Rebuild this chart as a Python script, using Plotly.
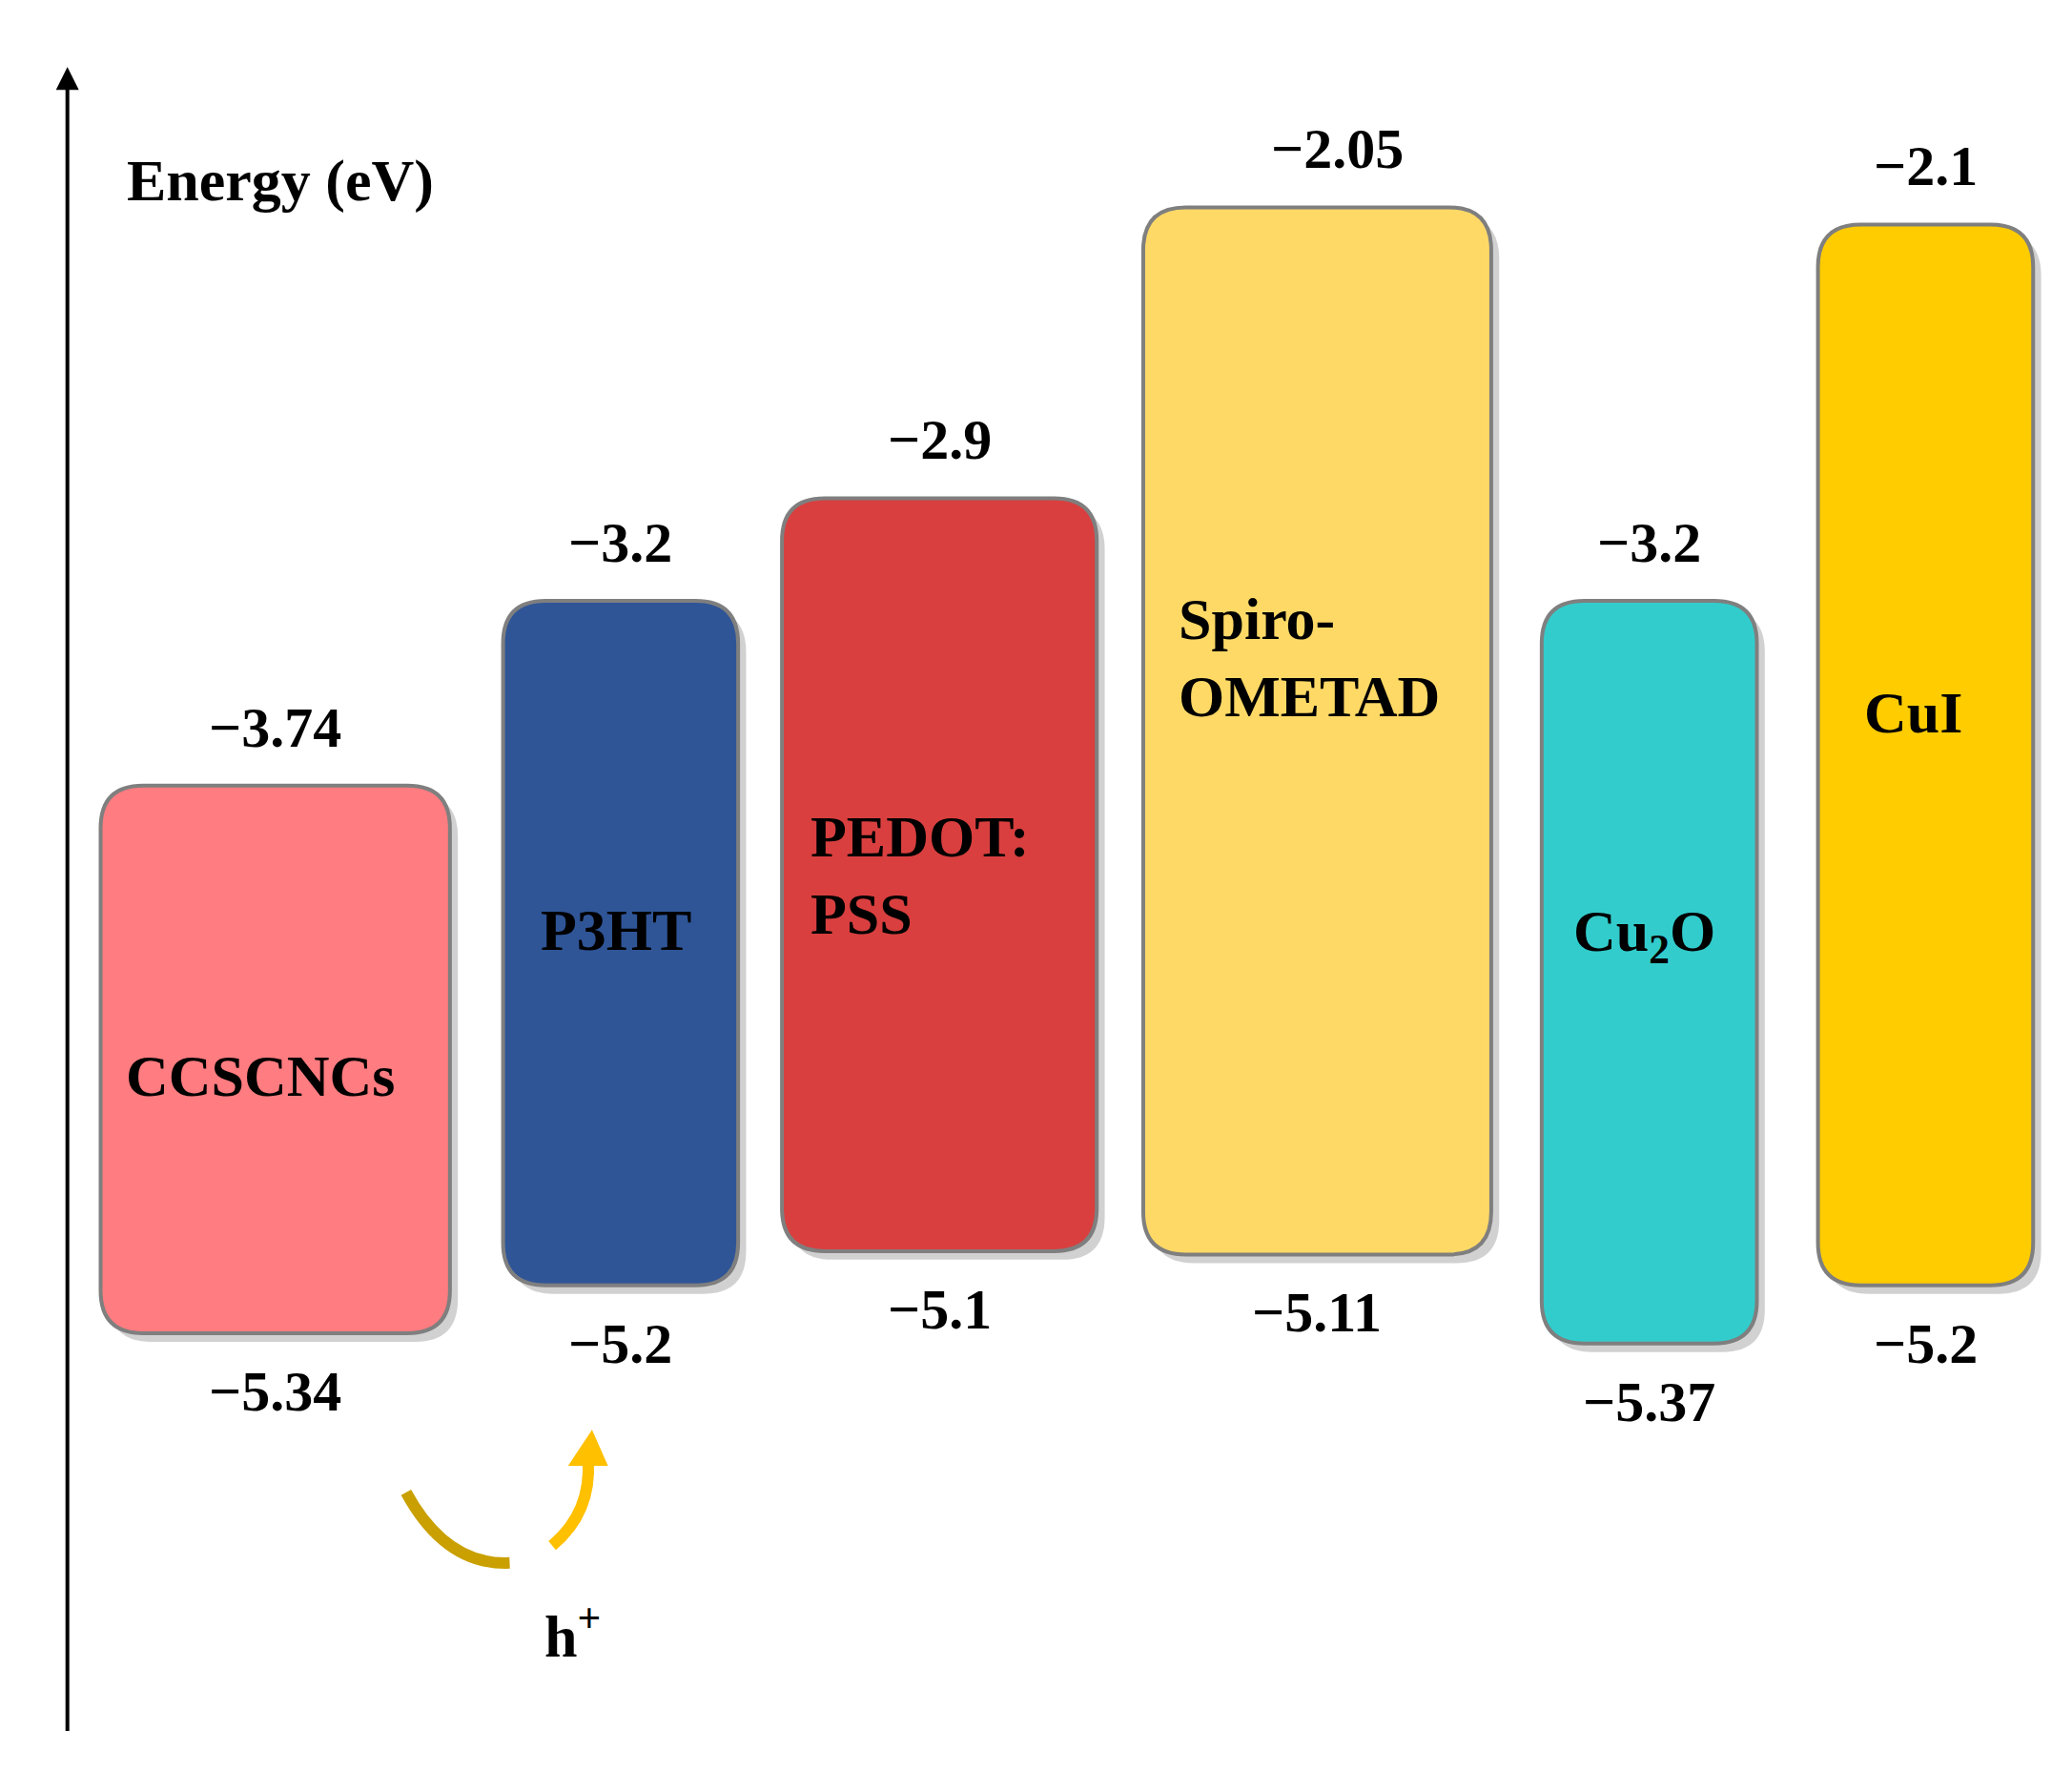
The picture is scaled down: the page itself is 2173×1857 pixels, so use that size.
import plotly.graph_objects as go

# energy levels (eV)
materials = ["CCSCNCs", "P3HT", "PEDOT:<br>PSS", "Spiro-<br>OMETAD", "Cu<sub>2</sub>O", "CuI"]
lumo = [-3.74, -3.2, -2.9, -2.05, -3.2, -2.1]
homo = [-5.34, -5.2, -5.1, -5.11, -5.37, -5.2]
lumo_txt = ["−3.74", "−3.2", "−2.9", "−2.05", "−3.2", "−2.1"]
homo_txt = ["−5.34", "−5.2", "−5.1", "−5.11", "−5.37", "−5.2"]
fills = ["#FF7C80", "#2F5597", "#D93F3F", "#FFD966", "#33CCCC", "#FFCC00"]

# layout helpers (horizontal placement)
x_left = [70, 373, 583, 855, 1155, 1363]
x_right = [333, 550, 820, 1117, 1317, 1525]
name_x = [190, 458, 603, 880, 1232, 1435]
name_anchor = ["center", "center", "left", "left", "center", "center"]
name_frac = [0.53, 0.48, 0.5, 0.43, 0.45, 0.46]
top_dx = [0, 0, 0, 15, 0, 0]

PX = 257.0  # px per eV in the reference grid
R = 32      # corner radius in px
FONT = "Liberation Serif"


def rrect(x0, x1, y0, y1):
    ry = R / PX
    return (f"M{x0+R},{y1} L{x1-R},{y1} Q{x1},{y1} {x1},{y1-ry} "
            f"L{x1},{y0+ry} Q{x1},{y0} {x1-R},{y0} L{x0+R},{y0} "
            f"Q{x0},{y0} {x0},{y0+ry} L{x0},{y1-ry} Q{x0},{y1} {x0+R},{y1} Z")


fig = go.Figure()
shapes = []
ann = []
for i in range(len(materials)):
    x0, x1 = x_left[i], x_right[i]
    shapes.append(dict(type="path", path=rrect(x0 + 6, x1 + 6, homo[i] - 0.025, lumo[i] - 0.025),
                       fillcolor="rgba(0,0,0,0.18)", line=dict(width=0), layer="below"))
    shapes.append(dict(type="path", path=rrect(x0, x1, homo[i], lumo[i]),
                       fillcolor=fills[i], line=dict(color="#7F7F7F", width=4)))
    cx = (x0 + x1) / 2
    ann.append(dict(x=cx + top_dx[i], y=lumo[i] + 0.17, text="<b>" + lumo_txt[i] + "</b>",
                    showarrow=False, font=dict(family=FONT, size=60, color="black"),
                    xanchor="center"))
    ann.append(dict(x=cx, y=homo[i] - 0.17, text="<b>" + homo_txt[i] + "</b>", showarrow=False,
                    font=dict(family=FONT, size=60, color="black"), xanchor="center"))
    ny = lumo[i] - name_frac[i] * (lumo[i] - homo[i])
    ann.append(dict(x=name_x[i], y=ny, text="<b>" + materials[i] + "</b>", showarrow=False,
                    font=dict(family=FONT, size=62, color="black"), xanchor=name_anchor[i],
                    align="left"))

# energy axis arrow
ann.append(dict(x=45, y=-1.64, ax=45, ay=-6.53, xref="x", yref="y", axref="x", ayref="y",
                showarrow=True, arrowhead=2, arrowsize=1.2, arrowwidth=4, arrowcolor="black", text=" "))
ann.append(dict(x=88, y=-2.05 + 20 / PX, text="<b>Energy (eV)</b>", showarrow=False, xanchor="left",
                font=dict(family=FONT, size=62, color="black")))

# hole transfer arrow
def py(p):
    return -2.05 - (p - 150) / PX

shapes.append(dict(type="path", line=dict(color="#C9A000", width=12),
                   path=f"M300,{py(1115)} Q330,{py(1170)} 378,{py(1168)}"))
shapes.append(dict(type="path", line=dict(color="#FFC000", width=12),
                   path=f"M410,{py(1155)} Q440,{py(1130)} 437,{py(1090)}"))
shapes.append(dict(type="path", fillcolor="#FFC000", line=dict(width=0),
                   path=f"M422,{py(1095)} L452,{py(1095)} L440,{py(1068)} Z"))
ann.append(dict(x=425, y=py(1220), text="<b>h<sup>+</sup></b>", showarrow=False,
                font=dict(family=FONT, size=62, color="black")))

fig.update_layout(width=2173, height=1857, margin=dict(l=0, r=0, t=0, b=0),
                  plot_bgcolor="white", paper_bgcolor="white", shapes=shapes, annotations=ann,
                  showlegend=False,
                  xaxis=dict(range=[0, 1560], visible=False, fixedrange=True),
                  yaxis=dict(range=[py(1330), py(0)], visible=False, fixedrange=True))
fig.write_html("out.html")
